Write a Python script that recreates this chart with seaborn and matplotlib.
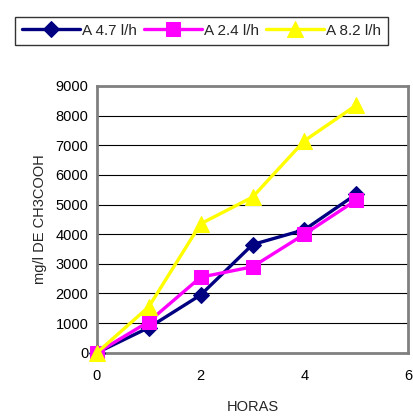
import matplotlib

matplotlib.use("Agg")

import matplotlib.pyplot as plt
import pandas as pd
import seaborn as sns

HORAS = [0, 1, 2, 3, 4, 5]
A_47 = [0, 850, 1950, 3650, 4150, 5350]
A_24 = [0, 1050, 2550, 2900, 4000, 5150]
A_82 = [0, 1550, 4350, 5250, 7150, 8350]

SERIES = ["A 4.7 l/h", "A 2.4 l/h", "A 8.2 l/h"]
COLORS = ["#000080", "#FF00FF", "#FFFF00"]
MARKERS = ["D", "s", "^"]
MSIZES = [8, 10, 12]

sns.set_theme(style="white")
plt.rcParams["font.family"] = ["Liberation Sans", "DejaVu Sans"]

fig = plt.figure(figsize=(4.14, 4.19), dpi=100)
ax = fig.add_axes([0.234, 0.158, 0.752, 0.637])

for name, vals, color, marker, ms in zip(SERIES, [A_47, A_24, A_82], COLORS, MARKERS, MSIZES):
    df = pd.DataFrame({"HORAS": HORAS, "val": vals})
    sns.lineplot(
        data=df, x="HORAS", y="val", ax=ax, color=color, marker=marker,
        markersize=ms, markeredgecolor=color, linewidth=2.4, label=name,
        clip_on=False, zorder=3,
    )

ax.set_xlim(0, 6)
ax.set_ylim(0, 9000)
ax.set_xticks([0, 2, 4, 6])
ax.set_yticks(range(0, 9001, 1000))
ax.yaxis.grid(True, color="black", linewidth=0.8)
ax.set_axisbelow(True)
for side in ["left", "bottom", "top", "right"]:
    ax.spines[side].set_visible(True)
    ax.spines[side].set_color("#808080")
    ax.spines[side].set_linewidth(2)
ax.tick_params(axis="both", which="both", direction="out", length=4, width=1,
               color="#808080", labelsize=10.5, colors="black")
ax.tick_params(axis="x", pad=8)
ax.tick_params(axis="y", pad=2)
ax.set_xlabel("HORAS", fontsize=10.5, labelpad=12)
ax.set_ylabel("mg/l DE CH3COOH", fontsize=10.5, labelpad=6)

handles, labels = ax.get_legend_handles_labels()
ax.get_legend().remove()
leg = fig.legend(
    handles, labels, loc="upper left", bbox_to_anchor=(0.018, 0.978), ncol=3,
    frameon=True, fancybox=False, edgecolor="black", fontsize=11,
    handlelength=3.8, handletextpad=0.1, columnspacing=0.5, borderpad=0.45,
)
leg.get_frame().set_linewidth(1)

fig.savefig("out.png", dpi=100)
